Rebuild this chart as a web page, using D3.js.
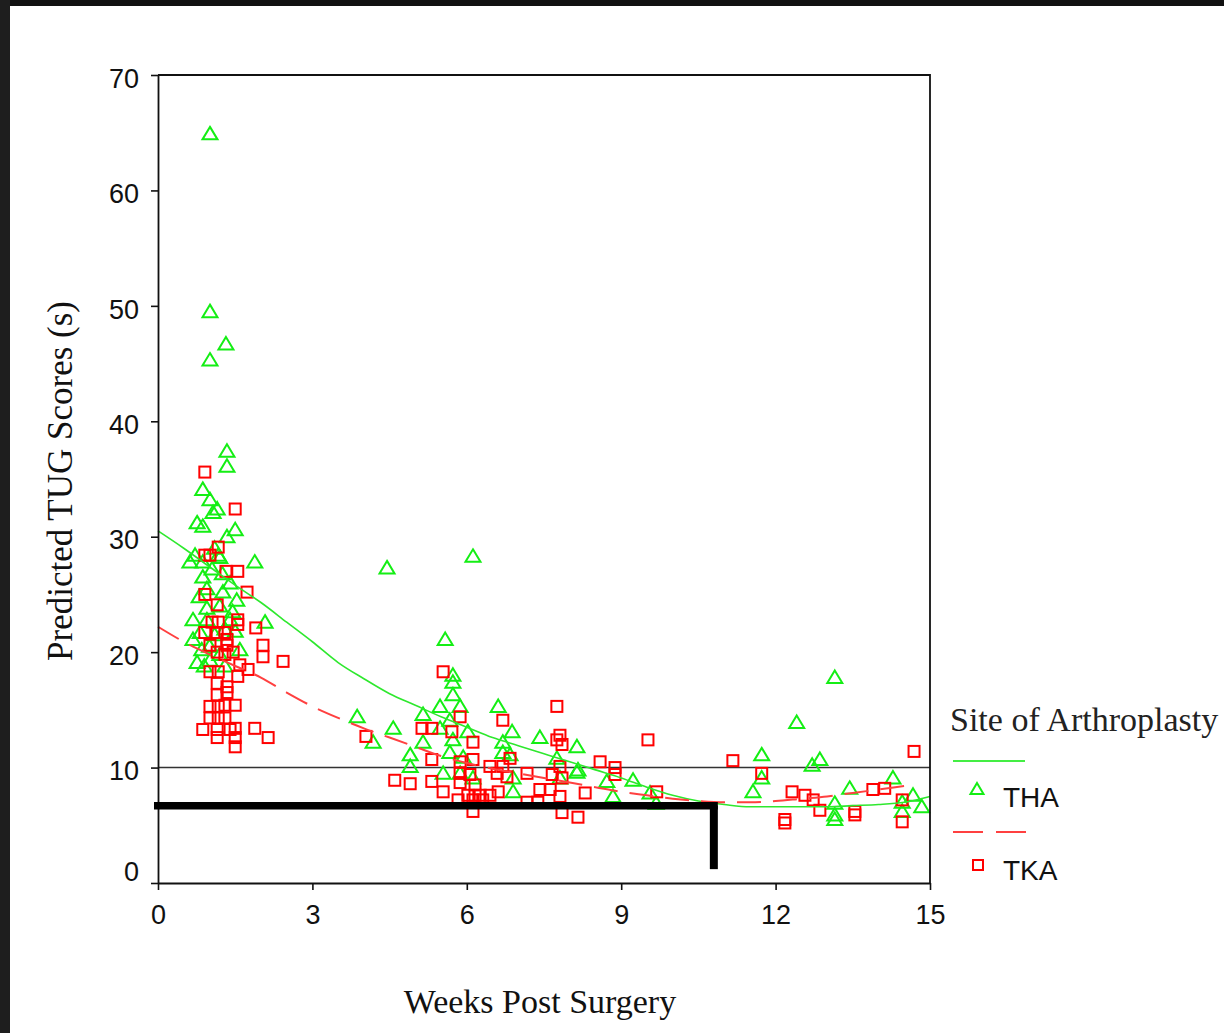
<!DOCTYPE html>
<html>
<head>
<meta charset="utf-8">
<script src="https://cdn.jsdelivr.net/npm/d3@7"></script>
<style>
  html, body { margin: 0; padding: 0; background: #fff; }
  svg { display: block; }
</style>
</head>
<body>
<svg id="chart" width="1224" height="1033"></svg>
<script>
// ---- Data: predicted TUG scores (s) by weeks post surgery ----
// Total hip arthroplasty (THA)
const thaWeeks = [
  1.01, 1.01, 1.32, 1.01, 1.34, 1.34, 0.87, 1.01, 1.15, 1.07, 0.76, 0.87, 1.50, 1.34,
  0.62, 0.87, 1.88, 0.87, 1.40, 1.26, 1.53, 2.08, 0.68, 0.95, 0.82, 0.68, 1.59, 0.76,
  1.01, 1.10, 1.20, 0.95, 1.20, 1.45, 1.10, 0.80, 1.30, 1.00, 1.50, 1.20, 0.90, 1.17,
  0.72, 1.05, 1.25, 0.95, 1.40, 0.85, 1.30,
  3.87, 4.18, 4.45, 4.57, 4.90, 4.90, 5.15, 5.15, 5.58, 5.73, 5.73, 5.73, 5.48, 5.87,
  6.61, 6.12, 5.67, 5.48, 6.02, 6.88, 7.42, 8.14, 5.73, 6.70, 7.75, 5.67, 5.93, 6.70,
  6.84, 5.54, 5.87, 6.12, 6.90, 7.81, 8.14, 9.23, 6.90, 8.84, 8.72, 8.16, 9.56, 9.68,
  13.15, 12.41, 11.73, 12.86, 12.71, 11.73, 11.56, 13.44, 14.28, 14.67, 14.84, 13.15,
  13.15, 13.15, 14.46, 14.46
];
const thaTug = [
  64.9, 49.5, 46.7, 45.3, 37.4, 36.1, 34.1, 33.2, 32.4, 32.1, 31.2, 30.9, 30.6, 30.0,
  27.8, 27.8, 27.8, 26.5, 26.0, 25.2, 24.5, 22.6, 22.8, 22.8, 21.7, 21.1, 20.2, 19.1,
  19.3, 29.0, 28.2, 25.5, 24.0, 23.5, 21.5, 24.8, 22.0, 20.5, 21.8, 19.8, 18.8, 28.4,
  28.4, 27.2, 26.8, 23.8, 22.8, 20.2, 18.8,
  14.4, 12.2, 27.3, 13.4, 11.1, 10.1, 14.6, 12.2, 21.1, 18.0, 17.4, 16.3, 15.3, 15.3,
  15.3, 28.3, 14.1, 13.4, 13.1, 13.1, 12.6, 11.8, 12.4, 12.2, 10.8, 11.3, 10.9, 11.3,
  11.1, 9.5, 9.5, 9.1, 9.1, 9.1, 9.6, 8.9, 7.9, 7.5, 8.8, 9.8, 7.8, 6.9,
  17.8, 13.9, 11.1, 10.7, 10.2, 9.1, 7.9, 8.2, 9.1, 7.6, 6.6, 6.9,
  5.9, 5.5, 7.0, 6.2
];

// Total knee arthroplasty (TKA)
const tkaWeeks = [
  0.91, 1.50, 1.17, 0.91, 1.01, 1.32, 1.55, 1.73, 0.91, 1.15, 1.17, 1.05, 1.55, 1.55,
  1.90, 0.91, 1.15, 1.30, 1.34, 2.04, 2.04, 1.01, 1.34, 1.15, 1.30, 1.46, 1.59, 1.75,
  1.01, 1.17, 1.55, 2.43, 1.15, 1.34, 1.15, 1.34, 1.01, 1.17, 1.30, 1.50, 1.01, 1.17,
  1.30, 0.87, 1.15, 1.50, 1.88, 1.15, 1.50, 2.14, 1.50, 1.40,
  4.04, 4.60, 4.90, 5.13, 5.32, 5.54, 5.87, 5.71, 6.12, 6.70, 5.32, 5.87, 6.12, 6.45,
  6.70, 6.84, 7.17, 5.32, 5.54, 5.87, 5.87, 6.06, 6.16, 6.02, 6.16, 6.26, 6.45, 6.61,
  6.59, 6.78, 5.83, 6.12, 6.31, 6.12, 7.75, 7.81, 7.75, 7.85, 9.52, 8.59, 8.88, 8.88,
  7.81, 7.66, 7.85, 7.42, 7.62, 7.81, 8.30, 9.69, 7.17, 7.38, 7.85, 8.16,
  11.17, 11.73, 12.18, 12.18, 12.32, 12.57, 12.73, 12.86, 13.54, 13.54, 13.89, 14.12,
  14.46, 14.46, 14.69
];
const tkaTug = [
  35.6, 32.4, 29.1, 28.4, 28.4, 27.0, 27.0, 25.2, 25.0, 24.1, 22.6, 22.6, 22.8, 22.4,
  22.1, 21.7, 21.7, 21.7, 21.1, 20.6, 19.6, 20.6, 20.6, 20.0, 19.8, 20.0, 18.9, 18.5,
  18.3, 18.3, 17.9, 19.2, 17.3, 17.0, 16.3, 16.5, 15.3, 15.3, 15.4, 15.4, 14.3, 14.3,
  14.3, 13.3, 13.3, 13.4, 13.4, 12.6, 12.6, 12.6, 11.8, 13.3,
  12.7, 8.9, 8.6, 13.4, 13.4, 18.3, 14.4, 13.1, 12.2, 14.1, 10.7, 10.5, 10.7, 10.1,
  10.1, 10.8, 9.5, 8.8, 7.9, 9.5, 8.7, 9.4, 8.5, 7.6, 7.6, 7.6, 7.6, 7.9,
  9.5, 9.2, 7.2, 7.2, 7.2, 6.2, 15.3, 12.8, 12.4, 12.0, 12.4, 10.5, 10.0, 9.4,
  10.1, 9.4, 9.1, 8.1, 8.1, 7.5, 7.8, 7.9, 7.0, 7.0, 6.1, 5.7,
  10.6, 9.5, 5.5, 5.2, 7.9, 7.6, 7.2, 6.3, 6.2, 5.9, 8.1, 8.2,
  7.2, 5.3, 11.4
];

// Smoothed fit lines for each group
const fitWeeks = [0, 0.5, 1, 1.5, 2, 2.5, 3, 3.5, 4, 4.5, 5, 5.5, 6, 6.5, 7, 7.5,
                  8, 8.5, 9, 9.5, 10, 10.5, 11, 11.5, 12, 12.5, 13, 13.5, 14, 14.5, 15];
const thaFitTug = [30.5, 29.0, 27.4, 25.8, 24.3, 22.6, 20.9, 19.1, 17.7, 16.4, 15.4, 14.4,
                   13.5, 12.6, 11.9, 11.2, 10.5, 9.8, 9.1, 8.3, 7.6, 7.1, 6.8, 6.6, 6.6,
                   6.6, 6.6, 6.7, 6.8, 7.0, 7.5];
const tkaFitTug = [22.2, 20.9, 19.8, 18.8, 17.8, 16.5, 15.3, 14.3, 13.4, 12.6, 11.8, 11.0,
                   10.4, 9.9, 9.5, 9.1, 8.7, 8.3, 7.9, 7.6, 7.3, 7.1, 7.0, 7.0, 7.1,
                   7.3, 7.5, 7.8, 8.1, 8.4, 8.6];

// Axis ticks
const xTicks = [0, 3, 6, 9, 12, 15];
const yTicks = [0, 10, 20, 30, 40, 50, 60, 70];

// Reference line and marked cut-off
const referenceTug = 10;
const markerTug = 6.7;
const markerWeek = 10.8;
const markerFloorTug = 1.2;

const legendNames = ["THA", "TKA"];
const legendTitle = "Site of Arthroplasty";

// ---- Drawing ----
const GREEN = "#14ee14";
const RED = "#ff0000";

const svg = d3.select("#chart");
svg.append("rect").attr("width", 1224).attr("height", 1033).attr("fill", "#fff");
svg.append("rect").attr("width", 1224).attr("height", 6).attr("fill", "#111");
svg.append("rect").attr("width", 10).attr("height", 1033).attr("fill", "#1e1e1e");

const x = d3.scaleLinear().domain([0, 15]).range([158, 930]);
const y = d3.scaleLinear().domain([0, 70]).range([883, 75]);

const g = svg.append("g");

// reference line
g.append("line")
  .attr("x1", x(0)).attr("x2", x(15))
  .attr("y1", y(referenceTug)).attr("y2", y(referenceTug))
  .attr("stroke", "#333").attr("stroke-width", 1.6);

// markers
const triPath = "M0,-7 L7.5,5.5 L-7.5,5.5 Z";
g.append("g").selectAll("path")
  .data(d3.zip(thaWeeks, thaTug))
  .join("path")
  .attr("d", triPath)
  .attr("transform", d => `translate(${x(d[0])},${y(d[1])})`)
  .attr("fill", "none").attr("stroke", GREEN).attr("stroke-width", 2)
  .attr("stroke-linejoin", "miter");

g.append("g").selectAll("rect")
  .data(d3.zip(tkaWeeks, tkaTug))
  .join("rect")
  .attr("x", d => x(d[0]) - 5.5).attr("y", d => y(d[1]) - 5.5)
  .attr("width", 11).attr("height", 11)
  .attr("fill", "none").attr("stroke", RED).attr("stroke-width", 2);

// fit lines
const line = d3.line().curve(d3.curveMonotoneX);
g.append("path")
  .attr("d", line(fitWeeks.map((w, i) => [x(w), y(thaFitTug[i])])))
  .attr("fill", "none").attr("stroke", "#2ee82e").attr("stroke-width", 1.6);
g.append("path")
  .attr("d", line(fitWeeks.map((w, i) => [x(w), y(tkaFitTug[i])]).filter(p => p[0] <= x(14.8))))
  .attr("fill", "none").attr("stroke", "#ff4040").attr("stroke-width", 2)
  .attr("stroke-dasharray", "24,12");

// axes
const fontSans = "'Liberation Sans', Arial, sans-serif";
const fontSerif = "'Liberation Serif', 'Times New Roman', serif";

const xAxis = svg.append("g").attr("transform", `translate(0,${y(0)})`)
  .call(d3.axisBottom(x).tickValues(xTicks).tickSize(7).tickSizeOuter(0).tickPadding(15));
const yAxis = svg.append("g").attr("transform", `translate(${x(0)},0)`)
  .call(d3.axisLeft(y).tickValues(yTicks).tickSize(7).tickSizeOuter(0).tickPadding(12));

[xAxis, yAxis].forEach(a => {
  a.select(".domain").attr("stroke", "#111").attr("stroke-width", 1.8);
  a.selectAll(".tick line").attr("stroke", "#111").attr("stroke-width", 1.6);
  a.selectAll(".tick text").attr("fill", "#111")
    .style("font-family", fontSans).style("font-size", "27px");
});
yAxis.selectAll(".tick text").attr("dy", d => d === 0 ? "-0.1em" : "0.45em");

// frame top and right
svg.append("path")
  .attr("d", `M${x(0)},${y(70)} H${x(15)} V${y(0)}`)
  .attr("fill", "none").attr("stroke", "#111").attr("stroke-width", 1.8);

// axis titles
svg.append("text")
  .attr("x", 540).attr("y", 1013)
  .attr("text-anchor", "middle")
  .style("font-family", fontSerif).style("font-size", "34px").attr("fill", "#111")
  .text("Weeks Post Surgery");
svg.append("text")
  .attr("transform", "translate(72,481) rotate(-90)")
  .attr("text-anchor", "middle")
  .style("font-family", fontSerif).style("font-size", "35px").attr("fill", "#111")
  .text("Predicted TUG Scores (s)");

// cut-off marker (thick black bars)
svg.append("line")
  .attr("x1", x(0) - 4).attr("x2", x(markerWeek) + 4)
  .attr("y1", y(markerTug)).attr("y2", y(markerTug))
  .attr("stroke", "#000").attr("stroke-width", 7.5);
svg.append("line")
  .attr("x1", x(markerWeek)).attr("x2", x(markerWeek))
  .attr("y1", y(markerTug)).attr("y2", y(markerFloorTug))
  .attr("stroke", "#000").attr("stroke-width", 8);

// legend
const lg = svg.append("g");
lg.append("text").attr("x", 950).attr("y", 731)
  .style("font-family", fontSerif).style("font-size", "34px").attr("fill", "#222")
  .text(legendTitle);
lg.append("line").attr("x1", 953).attr("x2", 1025).attr("y1", 761).attr("y2", 761)
  .attr("stroke", "#44ee44").attr("stroke-width", 2);
lg.append("path").attr("d", "M0,-6 L6.5,5 L-6.5,5 Z")
  .attr("transform", "translate(977,789)")
  .attr("fill", "none").attr("stroke", GREEN).attr("stroke-width", 2);
lg.append("text").attr("x", 1003).attr("y", 807)
  .style("font-family", fontSans).style("font-size", "28px").attr("fill", "#111")
  .text(legendNames[0]);
lg.append("line").attr("x1", 953).attr("x2", 1026).attr("y1", 832).attr("y2", 832)
  .attr("stroke", "#ff4040").attr("stroke-width", 2).attr("stroke-dasharray", "30,13");
lg.append("rect").attr("x", 973).attr("y", 860).attr("width", 10).attr("height", 10)
  .attr("fill", "none").attr("stroke", RED).attr("stroke-width", 2);
lg.append("text").attr("x", 1003).attr("y", 880)
  .style("font-family", fontSans).style("font-size", "28px").attr("fill", "#111")
  .text(legendNames[1]);
</script>
</body>
</html>
